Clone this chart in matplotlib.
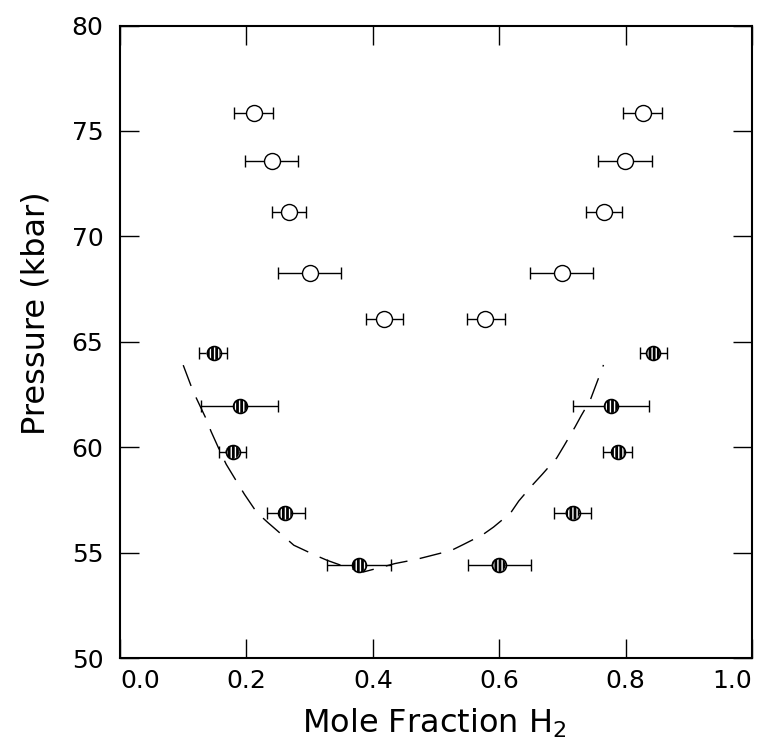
import matplotlib
matplotlib.use("Agg")
import matplotlib.pyplot as plt

plt.rcParams['font.family'] = ['DejaVu Sans']
plt.rcParams['mathtext.default'] = 'regular'
plt.rcParams['hatch.linewidth'] = 1.0

# open circles (upper branch)
open_p = [75.85, 73.55, 71.15, 68.25, 66.1]
open_left_x = [0.212, 0.240, 0.267, 0.300, 0.417]
open_left_lo = [0.180, 0.198, 0.240, 0.250, 0.389]
open_left_hi = [0.242, 0.281, 0.295, 0.350, 0.447]
open_right_x = [0.827, 0.799, 0.766, 0.699, 0.577]
open_right_lo = [0.796, 0.757, 0.738, 0.649, 0.549]
open_right_hi = [0.858, 0.842, 0.795, 0.749, 0.609]

# hatched circles (lower branch)
fill_p = [64.45, 61.95, 59.77, 56.88, 54.4]
fill_left_x = [0.148, 0.190, 0.178, 0.261, 0.378]
fill_left_lo = [0.125, 0.128, 0.156, 0.232, 0.328]
fill_left_hi = [0.170, 0.250, 0.200, 0.293, 0.428]
fill_right_x = [0.844, 0.777, 0.788, 0.716, 0.599]
fill_right_lo = [0.822, 0.717, 0.764, 0.686, 0.550]
fill_right_hi = [0.865, 0.837, 0.810, 0.746, 0.650]

# dashed coexistence curve
curve_x = [0.100, 0.113, 0.121, 0.136, 0.144, 0.158, 0.168, 0.186, 0.197, 0.216,
           0.233, 0.248, 0.259, 0.275, 0.307, 0.328, 0.358, 0.385, 0.414, 0.435,
           0.469, 0.490, 0.524, 0.543, 0.574, 0.591, 0.618, 0.631, 0.653, 0.668,
           0.691, 0.703, 0.720, 0.730, 0.744, 0.765]
curve_y = [63.89, 62.86, 62.31, 61.36, 60.75, 59.82, 59.19, 58.30, 57.76, 56.92,
           56.45, 56.06, 55.77, 55.35, 54.90, 54.63, 54.31, 54.08, 54.31, 54.48,
           54.68, 54.84, 55.10, 55.38, 55.85, 56.21, 56.88, 57.45, 58.22, 58.71,
           59.49, 60.09, 60.96, 61.51, 62.23, 63.90]

xticks = [0.0, 0.2, 0.4, 0.6, 0.8, 1.0]
yticks = [50, 55, 60, 65, 70, 75, 80]


def draw_errorbars(ax, x, lo, hi, p):
    xerr = [[xi - l for xi, l in zip(x, lo)], [h - xi for xi, h in zip(x, hi)]]
    ax.errorbar(x, p, xerr=xerr, fmt='none', ecolor='black', elinewidth=1.0,
                capsize=4.5, capthick=1.0, zorder=2)


fig = plt.figure(figsize=(7.62, 7.48), dpi=100)
ax = fig.add_axes([0.1575, 0.1203, 0.8294, 0.8456])

ax.plot(curve_x, curve_y, color='black', linewidth=1.0, dashes=(16, 9), zorder=1)

for x, lo, hi in [(open_left_x, open_left_lo, open_left_hi),
                  (open_right_x, open_right_lo, open_right_hi)]:
    draw_errorbars(ax, x, lo, hi, open_p)
    ax.plot(x, open_p, 'o', ms=11.5, mfc='white', mec='black', mew=1.0, zorder=3)

for x, lo, hi in [(fill_left_x, fill_left_lo, fill_left_hi),
                  (fill_right_x, fill_right_lo, fill_right_hi)]:
    draw_errorbars(ax, x, lo, hi, fill_p)
    ax.scatter(x, fill_p, s=10 ** 2, facecolor='black', edgecolor='white',
               hatch='||||', linewidth=0, zorder=3)
    ax.plot(x, fill_p, 'o', ms=10, mfc='none', mec='black', mew=1.2, zorder=4)

ax.set_xlim(0, 1)
ax.set_ylim(50, 80)
ax.set_xticks(xticks)
ax.set_xticklabels([f"{t:.1f}" for t in xticks])
ax.set_yticks(yticks)
ax.tick_params(direction='in', length=14, width=1.0, top=True, right=True,
               labelsize=18, colors='black')
ax.tick_params(axis='x', pad=8)
ax.tick_params(axis='y', pad=12)
ax.xaxis.get_major_ticks()[0].label1.set_horizontalalignment('left')
ax.xaxis.get_major_ticks()[-1].label1.set_horizontalalignment('right')
for s in ax.spines.values():
    s.set_linewidth(1.5)

ax.set_xlabel("Mole Fraction H$_2$", fontsize=23)
ax.set_ylabel("Pressure (kbar)", fontsize=23)
ax.xaxis.set_label_coords(0.497, -0.077)
ax.yaxis.set_label_coords(-0.108, 0.545)

fig.savefig("out.png", dpi=100)
